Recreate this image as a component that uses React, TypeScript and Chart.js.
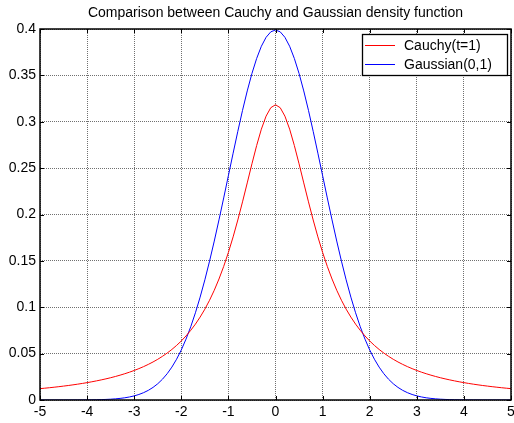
import React, { useEffect, useRef } from "react";
import { Chart, registerables } from "chart.js";

Chart.register(...registerables);

const TITLE = "Comparison between Cauchy and Gaussian density function";
const SERIES_NAMES = ["Cauchy(t=1)", "Gaussian(0,1)"];
const SERIES_COLORS = ["#ff0000", "#0000ff"];

const X_VALUES = [
  -5.0, -4.9, -4.8, -4.7, -4.6, -4.5, -4.4, -4.3, -4.2, -4.1,
  -4.0, -3.9, -3.8, -3.7, -3.6, -3.5, -3.4, -3.3, -3.2, -3.1,
  -3.0, -2.9, -2.8, -2.7, -2.6, -2.5, -2.4, -2.3, -2.2, -2.1,
  -2.0, -1.9, -1.8, -1.7, -1.6, -1.5, -1.4, -1.3, -1.2, -1.1,
  -1.0, -0.9, -0.8, -0.7, -0.6, -0.5, -0.4, -0.3, -0.2, -0.1,
  0.0,
  0.1, 0.2, 0.3, 0.4, 0.5, 0.6, 0.7, 0.8, 0.9, 1.0,
  1.1, 1.2, 1.3, 1.4, 1.5, 1.6, 1.7, 1.8, 1.9, 2.0,
  2.1, 2.2, 2.3, 2.4, 2.5, 2.6, 2.7, 2.8, 2.9, 3.0,
  3.1, 3.2, 3.3, 3.4, 3.5, 3.6, 3.7, 3.8, 3.9, 4.0,
  4.1, 4.2, 4.3, 4.4, 4.5, 4.6, 4.7, 4.8, 4.9, 5.0,
];

const CAUCHY = [
  0.01224, 0.01273, 0.01324, 0.01379, 0.01436, 0.01498, 0.01563, 0.01633, 0.01708, 0.01787,
  0.01872, 0.01964, 0.02062, 0.02167, 0.0228, 0.02402, 0.02534, 0.02677, 0.02832, 0.03,
  0.03183, 0.03383, 0.03601, 0.0384, 0.04102, 0.0439, 0.04709, 0.05061, 0.05451, 0.05884,
  0.06366, 0.06905, 0.07507, 0.08183, 0.08941, 0.09794, 0.10754, 0.11833, 0.13045, 0.14403,
  0.15915, 0.17586, 0.19409, 0.21363, 0.23405, 0.25465, 0.27441, 0.29203, 0.30607, 0.31516,
  0.31831,
  0.31516, 0.30607, 0.29203, 0.27441, 0.25465, 0.23405, 0.21363, 0.19409, 0.17586, 0.15915,
  0.14403, 0.13045, 0.11833, 0.10754, 0.09794, 0.08941, 0.08183, 0.07507, 0.06905, 0.06366,
  0.05884, 0.05451, 0.05061, 0.04709, 0.0439, 0.04102, 0.0384, 0.03601, 0.03383, 0.03183,
  0.03, 0.02832, 0.02677, 0.02534, 0.02402, 0.0228, 0.02167, 0.02062, 0.01964, 0.01872,
  0.01787, 0.01708, 0.01633, 0.01563, 0.01498, 0.01436, 0.01379, 0.01324, 0.01273, 0.01224,
];

const GAUSSIAN = [
  0.0, 0.0, 0.0, 0.00001, 0.00001, 0.00002, 0.00002, 0.00004, 0.00006, 0.00009,
  0.00013, 0.0002, 0.00029, 0.00042, 0.00061, 0.00087, 0.00123, 0.00172, 0.00238, 0.00327,
  0.00443, 0.00595, 0.00792, 0.01042, 0.01358, 0.01753, 0.02239, 0.02833, 0.03547, 0.04398,
  0.05399, 0.06562, 0.07895, 0.09405, 0.11092, 0.12952, 0.14973, 0.17137, 0.19419, 0.21785,
  0.24197, 0.26609, 0.28969, 0.31225, 0.33322, 0.35207, 0.36827, 0.38139, 0.39104, 0.39695,
  0.39894,
  0.39695, 0.39104, 0.38139, 0.36827, 0.35207, 0.33322, 0.31225, 0.28969, 0.26609, 0.24197,
  0.21785, 0.19419, 0.17137, 0.14973, 0.12952, 0.11092, 0.09405, 0.07895, 0.06562, 0.05399,
  0.04398, 0.03547, 0.02833, 0.02239, 0.01753, 0.01358, 0.01042, 0.00792, 0.00595, 0.00443,
  0.00327, 0.00238, 0.00172, 0.00123, 0.00087, 0.00061, 0.00042, 0.00029, 0.0002, 0.00013,
  0.00009, 0.00006, 0.00004, 0.00002, 0.00002, 0.00001, 0.00001, 0.0, 0.0, 0.0,
];

const X_MIN = -5;
const X_MAX = 5;
const X_STEP = 1;
const Y_MIN = 0;
const Y_MAX = 0.4;
const Y_STEP = 0.05;

const FONT = "'Liberation Sans', Arial, sans-serif";

const matlabPlugin = {
  id: "matlabDecor",
  afterDraw(chart: any) {
    const ctx = chart.ctx as CanvasRenderingContext2D;
    const { left, right, top, bottom } = chart.chartArea;
    const xs = chart.scales.x;
    const ys = chart.scales.y;
    ctx.save();
    // inward tick marks
    ctx.strokeStyle = "#000";
    ctx.lineWidth = 1;
    const tl = 4;
    for (let v = X_MIN; v <= X_MAX + 1e-9; v += X_STEP) {
      const px = Math.round(xs.getPixelForValue(v)) + 0.5;
      ctx.beginPath();
      ctx.moveTo(px, bottom);
      ctx.lineTo(px, bottom - tl);
      ctx.moveTo(px, top);
      ctx.lineTo(px, top + tl);
      ctx.stroke();
    }
    for (let i = 0; i <= Math.round((Y_MAX - Y_MIN) / Y_STEP); i++) {
      const py = Math.round(ys.getPixelForValue(Y_MIN + i * Y_STEP)) + 0.5;
      ctx.beginPath();
      ctx.moveTo(left, py);
      ctx.lineTo(left + tl, py);
      ctx.moveTo(right, py);
      ctx.lineTo(right - tl, py);
      ctx.stroke();
    }
    // frame
    ctx.lineWidth = 1.5;
    ctx.strokeRect(left, top, right - left, bottom - top);

    // title
    ctx.fillStyle = "#000";
    ctx.font = `14px ${FONT}`;
    ctx.textAlign = "center";
    ctx.textBaseline = "middle";
    ctx.fillText(TITLE, (left + right) / 2, 13);

    // legend
    const lx = 362, ly = 34, lw = 145, lh = 41;
    ctx.fillStyle = "#fff";
    ctx.fillRect(lx, ly, lw, lh);
    ctx.lineWidth = 1.3;
    ctx.strokeStyle = "#000";
    ctx.strokeRect(lx + 0.5, ly + 0.5, lw, lh);
    ctx.font = `14px ${FONT}`;
    ctx.textAlign = "left";
    chart.data.datasets.forEach((ds: any, i: number) => {
      const yy = ly + 11 + i * 19;
      ctx.lineWidth = 1;
      ctx.strokeStyle = ds.borderColor;
      ctx.beginPath();
      ctx.moveTo(lx + 3, yy + 0.5);
      ctx.lineTo(lx + 33, yy + 0.5);
      ctx.stroke();
      ctx.fillStyle = "#000";
      ctx.fillText(ds.label, lx + 42, yy + 1);
    });
    ctx.restore();
  },
};

export default function App() {
  const ref = useRef<HTMLCanvasElement>(null);
  useEffect(() => {
    document.body.style.margin = "0";
    const canvas = ref.current!;
    const chart = new Chart(canvas, {
      type: "line",
      data: {
        datasets: [
          {
            label: SERIES_NAMES[0],
            data: X_VALUES.map((x, i) => ({ x, y: CAUCHY[i] })),
            borderColor: SERIES_COLORS[0],
            borderWidth: 1,
            pointRadius: 0,
            tension: 0,
            fill: false,
          },
          {
            label: SERIES_NAMES[1],
            data: X_VALUES.map((x, i) => ({ x, y: GAUSSIAN[i] })),
            borderColor: SERIES_COLORS[1],
            borderWidth: 1,
            pointRadius: 0,
            tension: 0,
            fill: false,
          },
        ],
      },
      options: {
        responsive: false,
        animation: false,
        layout: { padding: { top: 29, right: 3, left: 0, bottom: 0 } },
        plugins: { legend: { display: false }, title: { display: false }, tooltip: { enabled: false } },
        scales: {
          x: {
            type: "linear",
            min: X_MIN,
            max: X_MAX,
            border: { display: false, dash: [1, 1] },
            grid: { color: "#707070", lineWidth: 1, drawTicks: false },
            ticks: {
              stepSize: X_STEP,
              color: "#000",
              font: { family: FONT, size: 14 },
              padding: 4,
              maxRotation: 0,
              callback: (v: any) => String(v),
            },
            afterFit: (s: any) => {
              s.height = 23;
              s.paddingLeft = 0;
              s.paddingRight = 0;
            },
          },
          y: {
            type: "linear",
            min: Y_MIN,
            max: Y_MAX,
            border: { display: false, dash: [1, 1] },
            grid: { color: "#707070", lineWidth: 1, drawTicks: false },
            ticks: {
              stepSize: Y_STEP,
              color: "#000",
              font: { family: FONT, size: 14 },
              padding: 4,
              callback: (v: any) => String(parseFloat(Number(v).toFixed(2))),
            },
            afterFit: (s: any) => {
              s.width = 40;
              s.paddingTop = 0;
              s.paddingBottom = 0;
            },
          },
        },
      } as any,
      plugins: [matlabPlugin],
    });
    return () => chart.destroy();
  }, []);
  return (
    <div style={{ width: 514, height: 423 }}>
      <canvas ref={ref} width={514} height={423} />
    </div>
  );
}
